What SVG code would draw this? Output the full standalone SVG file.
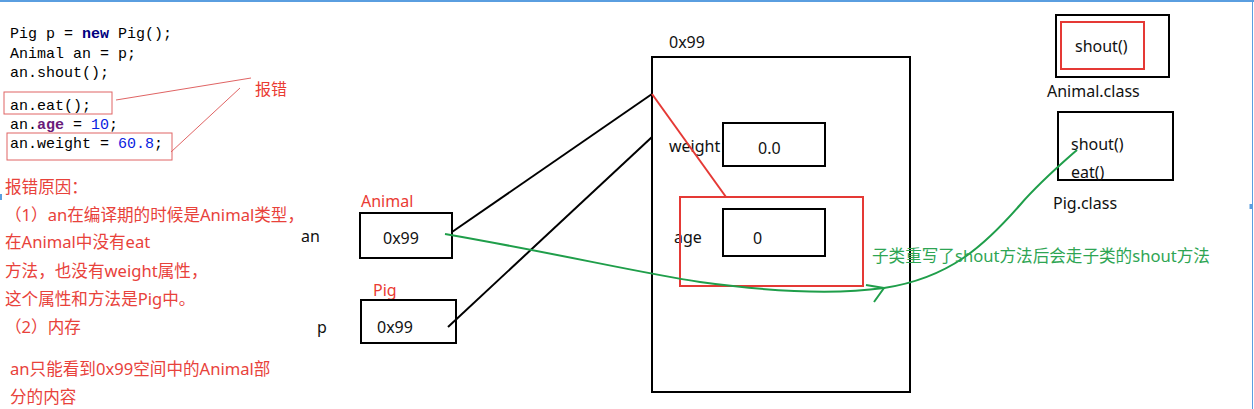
<svg xmlns="http://www.w3.org/2000/svg" width="1254" height="409" viewBox="0 0 1254 409">
<style>
.code{font-family:"Liberation Mono",monospace;font-size:15px;fill:#000}
.kw{fill:#00007f;font-weight:bold}
.fld{fill:#6a1b7a;font-weight:bold}
.num{fill:#0a22e0}
.note{font-family:"Noto Sans","Noto Sans CJK SC",sans-serif;font-size:16.6px;fill:#e8423b}
.lbl{font-family:"Noto Sans","Noto Sans CJK SC",sans-serif;font-size:16px;fill:#111}
.red{font-family:"Noto Sans","Noto Sans CJK SC",sans-serif;font-size:16px;fill:#ea3b33}
.green{font-family:"Noto Sans","Noto Sans CJK SC",sans-serif;font-size:16.6px;fill:#2ea553}
.box{fill:none;stroke:#000;stroke-width:2}
.rbox{fill:none;stroke:#e53935;stroke-width:2}
.thinred{fill:none;stroke:#e06464;stroke-width:1}
.blk{fill:none;stroke:#000;stroke-width:2}
.grn{fill:none;stroke:#1f9e4a;stroke-width:2}
</style>
<rect width="1254" height="409" fill="#fff"/>
<g id="frame" stroke="#5a9ee0" fill="none">
<line x1="0" y1="1" x2="1254" y2="1" stroke-width="2"/>
<line x1="1252.5" y1="0" x2="1252.5" y2="409" stroke-width="1"/>
<line x1="1" y1="194" x2="1" y2="200" stroke-width="2"/>
<line x1="1251" y1="204" x2="1251" y2="209" stroke-width="3"/>
</g>
<g id="code">
<text class="code" x="10" y="38">Pig p = <tspan class="kw">new</tspan> Pig();</text>
<text class="code" x="10" y="58">Animal an = p;</text>
<text class="code" x="10" y="77">an.shout();</text>
<text class="code" x="10" y="110">an.eat();</text>
<text class="code" x="10" y="129">an.<tspan class="fld">age</tspan> = <tspan class="num">10</tspan>;</text>
<text class="code" x="10" y="148">an.weight = <tspan class="num">60.8</tspan>;</text>
<rect class="thinred" x="4" y="92" width="108" height="22"/>
<rect class="thinred" x="7" y="133" width="165" height="27"/>
<line class="thinred" x1="116" y1="100" x2="251" y2="78"/>
<line class="thinred" x1="171" y1="152" x2="240" y2="88"/>
<text class="red" x="255" y="95">报错</text>
</g>
<g id="reason">
<text class="note" x="5" y="193">报错原因：</text>
<text class="note" x="5" y="221">（1）an在编译期的时候是Animal类型，</text>
<text class="note" x="5" y="248">在Animal中没有eat</text>
<text class="note" x="5" y="277">方法，也没有weight属性，</text>
<text class="note" x="5" y="305">这个属性和方法是Pig中。</text>
<text class="note" x="5" y="333">（2）内存</text>
<text class="note" x="10" y="375">an只能看到0x99空间中的Animal部</text>
<text class="note" x="10" y="403">分的内容</text>
</g>
<g id="var-an">
<text class="lbl" x="301" y="242">an</text>
<text class="red" x="361" y="207">Animal</text>
<rect class="box" x="360" y="213" width="92" height="45"/>
<text class="lbl" x="383" y="244">0x99</text>
</g>
<g id="var-p">
<text class="lbl" x="317" y="333">p</text>
<text class="red" x="373" y="296">Pig</text>
<rect class="box" x="361" y="300" width="95" height="43"/>
<text class="lbl" x="377" y="333">0x99</text>
</g>
<g id="heap-0x99">
<text class="lbl" x="669" y="48">0x99</text>
<rect class="box" x="652" y="57" width="258" height="335"/>
</g>
<g id="field-weight">
<text class="lbl" x="669" y="152">weight</text>
<rect class="box" x="723" y="123" width="102" height="43"/>
<text class="lbl" x="758" y="154">0.0</text>
</g>
<g id="field-age">
<text class="lbl" x="674" y="243">age</text>
<rect class="box" x="723" y="209" width="102" height="47"/>
<text class="lbl" x="753" y="244">0</text>
<rect class="rbox" x="680" y="197" width="183" height="89"/>
</g>
<g id="animal-class">
<rect class="box" x="1056" y="15" width="113" height="62"/>
<rect class="rbox" x="1061" y="22" width="83" height="47"/>
<text class="lbl" x="1075" y="52">shout()</text>
<text class="lbl" x="1047" y="97">Animal.class</text>
</g>
<g id="pig-class">
<rect class="box" x="1058" y="112" width="115" height="68"/>
<text class="lbl" x="1071" y="150">shout()</text>
<text class="lbl" x="1071" y="178">eat()</text>
<text class="lbl" x="1053" y="209">Pig.class</text>
</g>
<g id="connectors">
<line class="blk" x1="452" y1="232" x2="652" y2="94"/>
<line class="blk" x1="448" y1="327" x2="652" y2="137"/>
<line x1="652" y1="94" x2="726" y2="197" stroke="#e53935" stroke-width="2"/>
<path class="grn" d="M445,234 C560,254 640,273 700,282 C780,293 840,294 884,288 C950,278 985,245 1020,205 C1040,182 1060,165 1077,150"/>
<polyline class="grn" points="866,285 884,288 874,302"/>
<text class="green" x="872" y="262">子类重写了shout方法后会走子类的shout方法</text>
</g>
</svg>
